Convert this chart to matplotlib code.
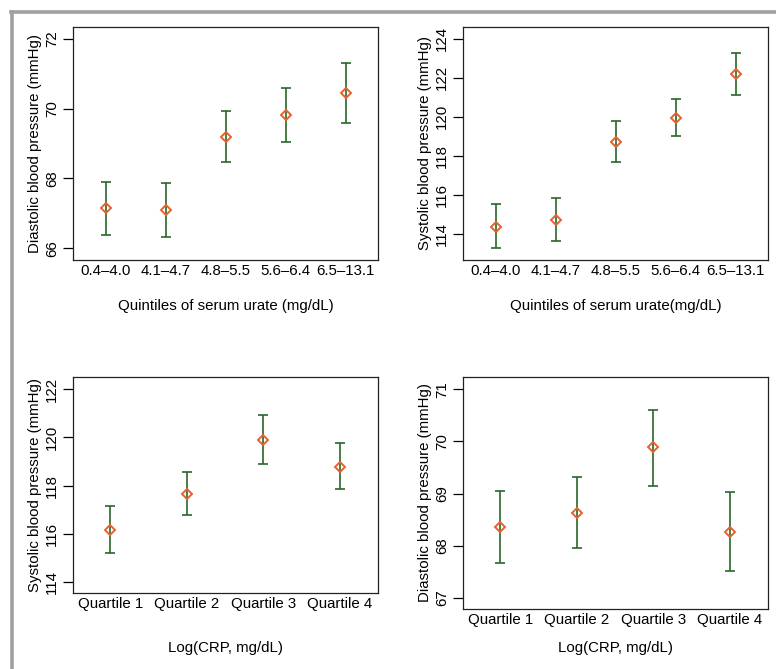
import matplotlib
matplotlib.use("Agg")
import matplotlib.pyplot as plt
from matplotlib.lines import Line2D
import numpy as np

plt.rcParams['font.family'] = ['Liberation Sans', 'DejaVu Sans']

# ---- data ----
urate_cats = ["0.4\u20134.0", "4.1\u20134.7", "4.8\u20135.5", "5.6\u20136.4", "6.5\u201313.1"]
dbp_urate_mean = [67.14, 67.08, 69.19, 69.81, 70.45]
dbp_urate_low = [66.37, 66.31, 68.47, 69.03, 69.59]
dbp_urate_high = [67.90, 67.88, 69.94, 70.59, 71.32]

sbp_urate_mean = [114.38, 114.72, 118.70, 119.93, 122.18]
sbp_urate_low = [113.27, 113.62, 117.71, 119.03, 121.13]
sbp_urate_high = [115.55, 115.85, 119.78, 120.89, 123.25]

crp_cats = ["Quartile 1", "Quartile 2", "Quartile 3", "Quartile 4"]
sbp_crp_mean = [116.16, 117.67, 119.90, 118.79]
sbp_crp_low = [115.21, 116.77, 118.90, 117.86]
sbp_crp_high = [117.16, 118.57, 120.91, 119.76]

dbp_crp_mean = [68.35, 68.62, 69.89, 68.27]
dbp_crp_low = [67.66, 67.95, 69.15, 67.52]
dbp_crp_high = [69.04, 69.31, 70.60, 69.02]

GREEN = "#2a662a"
ORANGE = "#e8602c"
FS = 10.8

fig = plt.figure(figsize=(7.76, 6.69), dpi=100)
W, H = 776, 669

def add_axes(x0, x1, y0, y1):
    return fig.add_axes([x0 / W, 1 - y1 / H, (x1 - x0) / W, (y1 - y0) / H])

def panel(ax, cats, mean, low, high, ylim, yticks, ylabel, xlabel, xlabel_off):
    n = len(cats)
    x = np.arange(1, n + 1)
    mean = np.array(mean); low = np.array(low); high = np.array(high)
    ax.errorbar(x, mean, yerr=[mean - low, high - mean], fmt='none',
                ecolor=GREEN, elinewidth=1.2, capsize=3.3, capthick=1.2, zorder=2)
    ax.plot(x, mean, linestyle='none', marker='D', markersize=5.2,
            markerfacecolor='none', markeredgecolor=ORANGE, markeredgewidth=1.4, zorder=3)
    ax.set_xlim(0.45 if n == 5 else 0.51, n + 0.54 if n == 5 else n + 0.5)
    ax.set_ylim(*ylim)
    ax.set_xticks(x)
    ax.set_xticklabels(cats, fontsize=FS)
    ax.set_yticks(yticks)
    ax.set_yticklabels([str(t) for t in yticks], fontsize=FS, rotation=90, va='center')
    ax.tick_params(axis='x', length=0, pad=3)
    ax.tick_params(axis='y', length=7, width=0.9, pad=3, direction='out')
    for s in ax.spines.values():
        s.set_linewidth(0.9)
        s.set_color('#222222')
    ax.set_ylabel(ylabel, fontsize=FS)
    ax.yaxis.set_label_coords(-0.102, 0.5)
    ax.set_xlabel(xlabel, fontsize=FS)
    ax.xaxis.set_label_coords(0.5, xlabel_off)

ax1 = add_axes(73, 378, 27, 260)
panel(ax1, urate_cats, dbp_urate_mean, dbp_urate_low, dbp_urate_high,
      (65.66, 72.34), [66, 68, 70, 72], "Diastolic blood pressure (mmHg)",
      "Quintiles of serum urate (mg/dL)", -0.167)

ax2 = add_axes(463, 768, 27, 260)
panel(ax2, urate_cats, sbp_urate_mean, sbp_urate_low, sbp_urate_high,
      (112.67, 124.6), [114, 116, 118, 120, 122, 124], "Systolic blood pressure (mmHg)",
      "Quintiles of serum urate(mg/dL)", -0.167)

ax3 = add_axes(73, 378, 376.7, 593.3)
panel(ax3, crp_cats, sbp_crp_mean, sbp_crp_low, sbp_crp_high,
      (113.53, 122.52), [114, 116, 118, 120, 122], "Systolic blood pressure (mmHg)",
      "Log(CRP, mg/dL)", -0.222)

ax4 = add_axes(463, 768, 376.7, 609.3)
panel(ax4, crp_cats, dbp_crp_mean, dbp_crp_low, dbp_crp_high,
      (66.78, 71.24), [67, 68, 69, 70, 71], "Diastolic blood pressure (mmHg)",
      "Log(CRP, mg/dL)", -0.138)

# grey border frame (top and left)
fig.add_artist(Line2D([11 / W, 1.0], [1 - 12 / H, 1 - 12 / H], color='#a0a0a0', linewidth=2.6,
                      transform=fig.transFigure))
fig.add_artist(Line2D([11.5 / W, 11.5 / W], [0.0, 1 - 12 / H], color='#a0a0a0', linewidth=2.6,
                      transform=fig.transFigure))

fig.savefig("out.png", dpi=100)
